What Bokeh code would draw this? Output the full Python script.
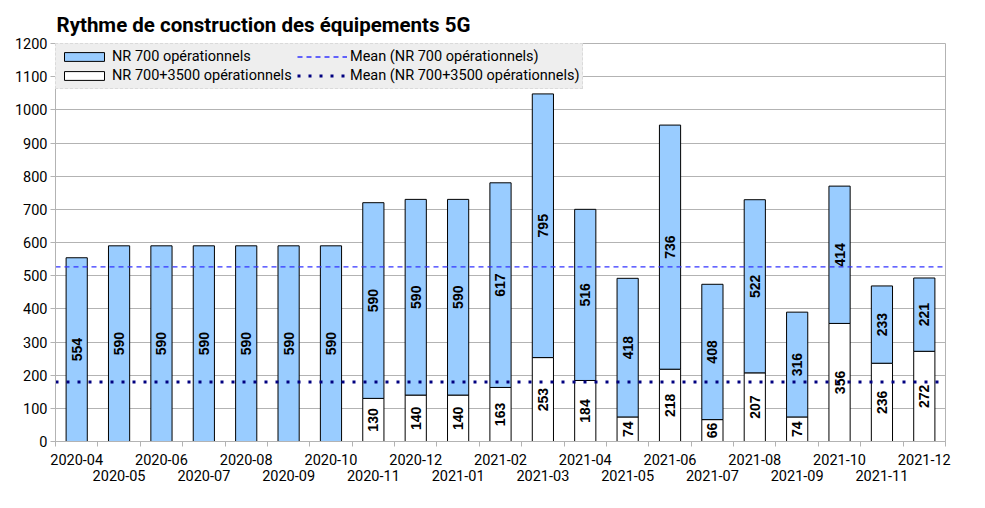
from bokeh.plotting import figure
from bokeh.models import (ColumnDataSource, FixedTicker, LinearAxis, Range1d,
                          Legend, LegendItem, LabelSet)
from bokeh.core.properties import value
from bokeh.embed import file_html
from bokeh.resources import INLINE
import math

months = ["2020-04", "2020-05", "2020-06", "2020-07", "2020-08", "2020-09",
          "2020-10", "2020-11", "2020-12", "2021-01", "2021-02", "2021-03",
          "2021-04", "2021-05", "2021-06", "2021-07", "2021-08", "2021-09",
          "2021-10", "2021-11", "2021-12"]
nr700 = [554, 590, 590, 590, 590, 590, 590, 590, 590, 590, 617, 795, 516,
         418, 736, 408, 522, 316, 414, 233, 221]
nr700_3500 = [0, 0, 0, 0, 0, 0, 0, 130, 140, 140, 163, 253, 184, 74, 218,
              66, 207, 74, 356, 236, 272]
y_ticks = [0, 100, 200, 300, 400, 500, 600, 700, 800, 900, 1000, 1100, 1200]

n = len(months)
x = list(range(n))
nz700 = [v for v in nr700 if v > 0]
nz3500 = [v for v in nr700_3500 if v > 0]
mean700 = sum(nz700) / len(nz700)
mean3500 = sum(nz3500) / len(nz3500)

src = ColumnDataSource(dict(
    x=x,
    b0=[0] * n,
    b1=nr700_3500,
    top=[a + b for a, b in zip(nr700_3500, nr700)],
))

GRID = "#b3b3b3"
FONT = "Roboto"

p = figure(frame_width=890, frame_height=398,
           x_range=Range1d(-0.5, n - 0.5), y_range=Range1d(0, 1200),
           output_backend="svg", toolbar_location=None,
           min_border_left=55, min_border_right=30, min_border_bottom=10,
           min_border_top=43)
p.background_fill_color = "white"
p.border_fill_color = "white"
p.outline_line_color = GRID

p.title.text = "Rythme de construction des équipements 5G"
p.title.text_font = FONT
p.title.text_font_size = "20.5px"
p.title.text_font_style = "bold"
p.title.text_color = "black"
p.title.offset = 1
p.title.standoff = 13

r_white = p.vbar(x="x", bottom="b0", top="b1", width=0.5, source=src,
                 fill_color="white", line_color="black", line_width=1)
r_blue = p.vbar(x="x", bottom="b1", top="top", width=0.5, source=src,
                fill_color="#99ccff", line_color="black", line_width=1)

r_m700 = p.line(x=[-0.5, n - 0.5], y=[mean700, mean700], line_color="#3333ff",
                line_width=1.3, line_dash="5 4")
r_m3500 = p.line(x=[-0.5, n - 0.5], y=[mean3500, mean3500], line_color="#000080",
                 line_width=3, line_dash="3 8")

# value labels
lab_blue = ColumnDataSource(dict(
    x=[i for i in x if nr700[i] > 0],
    y=[nr700_3500[i] + nr700[i] / 2 for i in x if nr700[i] > 0],
    t=[str(nr700[i]) for i in x if nr700[i] > 0]))
lab_white = ColumnDataSource(dict(
    x=[i for i in x if nr700_3500[i] > 0],
    y=[nr700_3500[i] / 2 for i in x if nr700_3500[i] > 0],
    t=[str(nr700_3500[i]) for i in x if nr700_3500[i] > 0]))
for s in (lab_blue, lab_white):
    p.add_layout(LabelSet(x="x", y="y", text="t", source=s, angle=math.pi / 2,
                          text_align="center", text_baseline="middle",
                          text_font=value("Liberation Sans"),
                          text_font_style="bold",
                          text_font_size=value("14px"), text_color="black"))

# axes
p.yaxis.ticker = FixedTicker(ticks=y_ticks)
p.yaxis.axis_line_color = GRID
p.yaxis.major_tick_line_color = GRID
p.yaxis.major_tick_out = 5
p.yaxis.major_tick_in = 0
p.yaxis.minor_tick_line_color = None
p.yaxis.major_label_text_font = FONT
p.yaxis.major_label_text_font_size = "14.5px"
p.yaxis.major_label_text_color = "black"
p.yaxis.major_label_standoff = 3

p.ygrid.ticker = FixedTicker(ticks=y_ticks)
p.ygrid.grid_line_color = GRID
p.xgrid.grid_line_color = None

even = [i for i in x if i % 2 == 0]
odd = [i for i in x if i % 2 == 1]
bounds = [i - 0.5 for i in range(n + 1)]

xa = p.xaxis[0]
xa.ticker = FixedTicker(ticks=even, minor_ticks=bounds)
xa.major_label_overrides = {i: months[i] for i in even}
xa.axis_line_color = GRID
xa.major_tick_line_color = None
xa.major_tick_out = 5
xa.major_tick_in = 0
xa.minor_tick_line_color = GRID
xa.minor_tick_out = 5
xa.minor_tick_in = 0
xa.major_label_text_font = FONT
xa.major_label_text_font_size = "14.5px"
xa.major_label_text_color = "black"
xa.major_label_standoff = 7

xb = LinearAxis(ticker=FixedTicker(ticks=odd, minor_ticks=[]))
xb.major_label_overrides = {i: months[i] for i in odd}
xb.axis_line_color = None
xb.major_tick_line_color = None
xb.minor_tick_line_color = None
xb.major_tick_out = 0
xb.major_tick_in = 0
xb.major_label_text_font = FONT
xb.major_label_text_font_size = "14.5px"
xb.major_label_text_color = "black"
xb.major_label_standoff = 2
p.add_layout(xb, "below")

legend = Legend(items=[
    LegendItem(label="NR 700 opérationnels", renderers=[r_blue]),
    LegendItem(label="NR 700+3500 opérationnels", renderers=[r_white]),
    LegendItem(label="Mean (NR 700 opérationnels)", renderers=[r_m700]),
    LegendItem(label="Mean (NR 700+3500 opérationnels)", renderers=[r_m3500]),
], location="top_left", orientation="vertical", nrows=2)
legend.margin = 0
legend.padding = 3
legend.spacing = 0
legend.label_height = 19
legend.label_width = 185
legend.glyph_height = 11
legend.glyph_width = 50
legend.label_standoff = 3
legend.label_text_font = FONT
legend.label_text_font_size = "14.5px"
legend.label_text_color = "black"
legend.background_fill_color = "#eeeeee"
legend.background_fill_alpha = 1
legend.border_line_color = "#c8c8c8"
legend.border_line_dash = "2 2"
legend.border_line_width = 1
p.add_layout(legend, "center")

open("out.html", "w").write(file_html(p, INLINE))
